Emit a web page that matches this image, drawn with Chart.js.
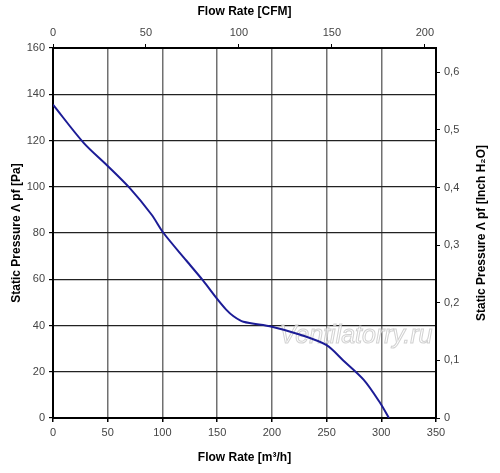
<!DOCTYPE html>
<html>
<head>
<meta charset="utf-8">
<script src="https://cdn.jsdelivr.net/npm/chart.js@4"></script>
<style>
  html, body { margin: 0; padding: 0; background: #fff; }
  #wrap { width: 500px; height: 473px; }
</style>
</head>
<body>
<div id="wrap"><canvas id="fanCurve"></canvas></div>
<script>
// Fan curve
const flowM3h = [0, 28, 50, 70, 90, 101, 122, 137, 150, 158, 165, 174, 200, 226, 250, 265, 284, 299, 307];
const pressPa = [135.5, 119, 109, 99.5, 88, 80, 68, 59.5, 51.5, 47, 44, 41.6, 39.5, 36, 31.5, 25, 16.5, 6.5, 0];

// secondary axis tick labels
const cfmTicks = [0, 50, 100, 150, 200];
const inchTicks = [0, 0.1, 0.2, 0.3, 0.4, 0.5, 0.6];

const M3H_PER_CFM = 1.699;
const PA_PER_INH2O = 249.089;
const X_MAX = 350;
const Y_MAX = 160;

const FAMILY = "'Liberation Sans', Arial, sans-serif";
const tickFont = { family: FAMILY, size: 11 };
const titleFont = { family: FAMILY, size: 12, weight: "bold" };
const tickColor = "#444";

// fixes the box of an axis so the plot area lands where it should
const fit = (prop, val) => (scale) => { scale[prop] = val; };

// replaces the generated ticks with a fixed list
const useTicks = (list) => (scale) => {
  scale.ticks = list.map((value) => ({ value }));
};

const extras = {
  id: "extras",
  beforeDatasetsDraw(chart) {
    const c = chart.ctx;
    c.save();
    c.font = "italic 25px " + FAMILY;
    c.textAlign = "center";
    c.textBaseline = "middle";
    c.fillStyle = "rgba(255,255,255,0.7)";
    c.strokeStyle = "rgba(190,190,190,0.7)";
    c.lineWidth = 1;
    c.fillText("Ventilatorry.ru", 356, 336);
    c.strokeText("Ventilatorry.ru", 356, 336);
    c.restore();
  },
  afterDraw(chart) {
    // right axis title reads bottom-to-top like the left one
    const c = chart.ctx;
    const area = chart.chartArea;
    c.save();
    c.translate(482, (area.top + area.bottom) / 2);
    c.rotate(-Math.PI / 2);
    c.font = "bold 12px " + FAMILY;
    c.fillStyle = "#000";
    c.textAlign = "center";
    c.textBaseline = "middle";
    c.fillText("Static Pressure Λ pf [Inch H₂O]", 0, 0);
    c.restore();
  },
};

new Chart(document.getElementById("fanCurve"), {
  type: "line",
  data: {
    datasets: [{
      data: flowM3h.map((x, i) => ({ x, y: pressPa[i] })),
      borderColor: "#1c1c96",
      borderWidth: 2,
      pointRadius: 0,
      tension: 0.3,
      fill: false,
    }],
  },
  options: {
    responsive: true,
    maintainAspectRatio: false,
    animation: false,
    layout: { padding: 0 },
    plugins: { legend: { display: false }, tooltip: { enabled: false } },
    scales: {
      x: {
        type: "linear", position: "bottom", min: 0, max: X_MAX,
        ticks: { stepSize: 50, font: tickFont, color: tickColor, padding: 4 },
        grid: { color: "#707070", lineWidth: 1.5, tickLength: 4, tickColor: "#000" },
        border: { color: "#000", width: 2 },
        title: { display: true, text: "Flow Rate [m³/h]", font: titleFont, color: "#000", padding: { top: 4, bottom: 8 } },
        afterFit: fit("height", 55),
      },
      x2: {
        type: "linear", position: "top", min: 0, max: X_MAX / M3H_PER_CFM,
        ticks: { font: tickFont, color: tickColor, padding: 4 },
        afterBuildTicks: useTicks(cfmTicks),
        grid: { drawOnChartArea: false, tickLength: 4, tickColor: "#000" },
        border: { color: "#000", width: 2 },
        title: { display: true, text: "Flow Rate [CFM]", font: titleFont, color: "#000", padding: { top: 4, bottom: 4 } },
        afterFit: fit("height", 48),
      },
      y: {
        type: "linear", position: "left", min: 0, max: Y_MAX,
        ticks: { stepSize: 20, font: tickFont, color: tickColor, padding: 4 },
        grid: { color: "#222", lineWidth: 1.2, tickLength: 4, tickColor: "#000" },
        border: { color: "#000", width: 2 },
        title: { display: true, text: "Static Pressure Λ pf [Pa]", font: titleFont, color: "#000", padding: { top: 9, bottom: 4 } },
        afterFit: fit("width", 53),
      },
      y2: {
        type: "linear", position: "right", min: 0, max: Y_MAX / PA_PER_INH2O,
        ticks: {
          font: tickFont, color: tickColor, padding: 4,
          callback: (v) => v === 0 ? "0" : v.toFixed(1).replace(".", ","),
        },
        afterBuildTicks: useTicks(inchTicks),
        grid: { drawOnChartArea: false, tickLength: 4, tickColor: "#000" },
        border: { color: "#000", width: 2 },
        afterFit: fit("width", 64),
      },
    },
  },
  plugins: [extras],
});
</script>
</body>
</html>
